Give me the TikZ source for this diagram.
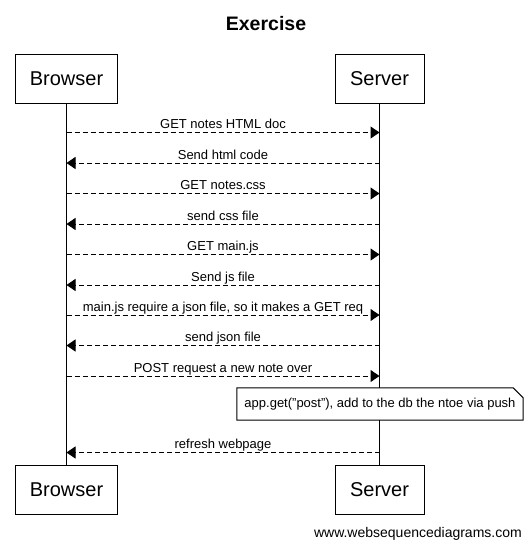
\documentclass[tikz,border=0pt]{standalone}
\usepackage{fontspec}
\setmainfont{Liberation Sans}
\usetikzlibrary{arrows.meta}
\begin{document}
\begin{tikzpicture}[x=1pt,y=-1pt,
  actor/.style={draw,line width=1pt,minimum height=49pt,inner sep=0pt,font=\fontsize{20}{24}\selectfont},
  msg/.style={line width=1pt,dash pattern=on 5pt off 3pt,-{Triangle[length=9pt,width=12pt]}},
  lbl/.style={anchor=base,yshift=4pt,inner sep=0pt,font=\fontsize{13}{15}\selectfont},
  life/.style={line width=1pt},
  notebox/.style={inner sep=0pt,minimum width=286pt,minimum height=32pt,font=\fontsize{13}{15}\selectfont}]
\fill[white] (0,0) rectangle (532,549);
\useasboundingbox (0,0) rectangle (532,549);
\node[anchor=base,inner sep=0pt,font=\fontsize{19.5}{23}\selectfont\bfseries] (title) at (266,30) {Exercise};
\node[actor,minimum width=102pt] (bt) at (66.5,78.5) {Browser};
\node[actor,minimum width=89pt] (st) at (379.5,78.5) {Server};
\node[actor,minimum width=102pt] (bb) at (66.5,489.5) {Browser};
\node[actor,minimum width=89pt] (sb) at (379.5,489.5) {Server};
\node[notebox] (note) at (380,404) {app.get("post"), add to the db the ntoe via push};
\draw[line width=1pt] (note.north west) -- ([xshift=-10pt]note.north east) -- ([yshift=-10pt]note.north east) -- (note.south east) -- (note.south west) -- cycle;
\draw[life] (bt.south) -- (bb.north);
\draw[life] (st.south) -- (st.south |- note.north);
\draw[life] (st.south |- note.south) -- (sb.north);
\foreach \i/\y in {1/132.5,2/163,3/193.5,4/224,5/254.5,6/285,7/315,8/345.5,9/376,10/452.5}{
  \coordinate (b\i) at (66.5,\y);
  \coordinate (s\i) at (379.5,\y);
}
\draw[msg] (b1) -- node[lbl] {GET notes HTML doc} (s1);
\draw[msg] (s2) -- node[lbl] {Send html code} (b2);
\draw[msg] (b3) -- node[lbl] {GET notes.css} (s3);
\draw[msg] (s4) -- node[lbl] {send css file} (b4);
\draw[msg] (b5) -- node[lbl] {GET main.js} (s5);
\draw[msg] (s6) -- node[lbl] {Send js file} (b6);
\draw[msg] (b7) -- node[lbl] {main.js require a json file, so it makes a GET req} (s7);
\draw[msg] (s8) -- node[lbl] {send json file} (b8);
\draw[msg] (b9) -- node[lbl] {POST request a new note over} (s9);
\draw[msg] (s10) -- node[lbl] {refresh webpage} (b10);
\node[anchor=base east,inner sep=0pt,font=\fontsize{14}{16}\selectfont] (footer) at (522,537) {www.websequencediagrams.com};
\end{tikzpicture}
\end{document}
